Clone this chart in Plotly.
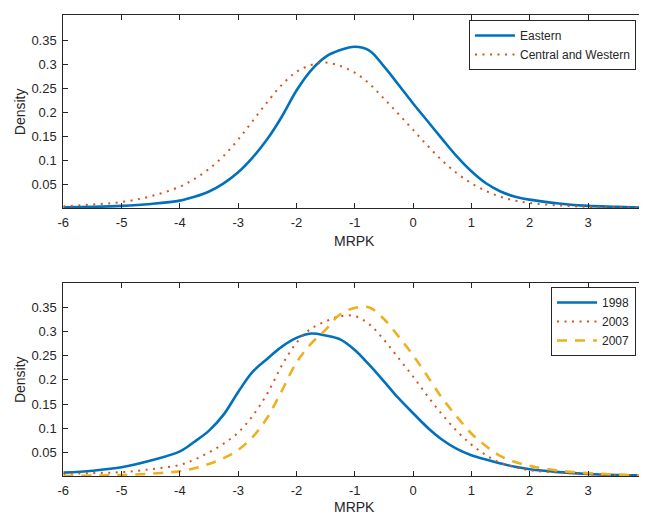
import plotly.graph_objects as go

# ---- data ----
mrpk = [-6, -5.5, -5, -4.5, -4, -3.75, -3.5, -3.25, -3, -2.75, -2.5, -2.25, -2,
        -1.75, -1.5, -1.25, -1, -0.75, -0.5, -0.25, 0, 0.25, 0.5, 0.75, 1,
        1.25, 1.5, 1.75, 2, 2.5, 3, 3.5, 4]

eastern = [0.003, 0.004, 0.006, 0.010, 0.017, 0.025, 0.036, 0.053, 0.076, 0.107,
           0.145, 0.192, 0.246, 0.288, 0.316, 0.330, 0.337, 0.329, 0.296, 0.258,
           0.219, 0.182, 0.145, 0.109, 0.078, 0.053, 0.036, 0.025, 0.019, 0.011,
           0.006, 0.004, 0.002]

central_western = [0.005, 0.009, 0.014, 0.026, 0.046, 0.062, 0.083, 0.110, 0.144,
                   0.183, 0.222, 0.258, 0.285, 0.299, 0.304, 0.297, 0.283, 0.260,
                   0.229, 0.197, 0.164, 0.131, 0.100, 0.074, 0.053, 0.037, 0.025,
                   0.017, 0.012, 0.007, 0.004, 0.003, 0.002]

y1998 = [0.008, 0.012, 0.019, 0.033, 0.052, 0.072, 0.095, 0.128, 0.175, 0.217,
         0.244, 0.269, 0.287, 0.296, 0.292, 0.284, 0.262, 0.231, 0.197, 0.162,
         0.131, 0.101, 0.076, 0.057, 0.044, 0.035, 0.027, 0.020, 0.015, 0.009,
         0.005, 0.003, 0.002]

y2003 = [0.005, 0.007, 0.009, 0.015, 0.024, 0.035, 0.050, 0.068, 0.091, 0.126,
         0.172, 0.230, 0.277, 0.306, 0.321, 0.332, 0.332, 0.315, 0.283, 0.245,
         0.207, 0.166, 0.128, 0.094, 0.066, 0.044, 0.028, 0.019, 0.013, 0.008,
         0.005, 0.003, 0.002]

y2007 = [0.001, 0.002, 0.003, 0.006, 0.011, 0.017, 0.026, 0.038, 0.055, 0.082,
         0.122, 0.178, 0.236, 0.275, 0.304, 0.336, 0.349, 0.350, 0.326, 0.290,
         0.251, 0.207, 0.162, 0.124, 0.089, 0.063, 0.042, 0.030, 0.022, 0.012,
         0.007, 0.004, 0.002]

x_ticks = [-6, -5, -4, -3, -2, -1, 0, 1, 2, 3, 4]
x_tick_labels = ["-6", "-5", "-4", "-3", "-2", "-1", "0", "1", "2", "3", "4"]
y_ticks = [0.05, 0.1, 0.15, 0.2, 0.25, 0.3, 0.35]
y_tick_labels = ["0.05", "0.1", "0.15", "0.2", "0.25", "0.3", "0.35"]

BLUE = "#0072BD"
ORANGE = "#D95319"
YELLOW = "#EDB120"
AX = "#262626"
W, H = 647, 514
OX, OY = 8, 8   # page offset of the figure (default body margin)
FONT = "Liberation Sans, Arial, Helvetica, sans-serif"


def px(x):
    return (x - OX) / W


def py(y):
    return 1 - (y - OY) / H


DOT = "2px,5.5px"
DASH = "10px,8px"

fig = go.Figure()

fig.add_trace(go.Scatter(x=mrpk, y=eastern, name="Eastern", mode="lines",
                         line=dict(color=BLUE, width=2.6, shape="spline"),
                         xaxis="x", yaxis="y", legend="legend"))
fig.add_trace(go.Scatter(x=mrpk, y=central_western, name="Central and Western", mode="lines",
                         line=dict(color=ORANGE, width=2, dash=DOT, shape="spline"),
                         xaxis="x", yaxis="y", legend="legend"))
fig.add_trace(go.Scatter(x=mrpk, y=y1998, name="1998", mode="lines",
                         line=dict(color=BLUE, width=2.6, shape="spline"),
                         xaxis="x2", yaxis="y2", legend="legend2"))
fig.add_trace(go.Scatter(x=mrpk, y=y2003, name="2003", mode="lines",
                         line=dict(color=ORANGE, width=2, dash=DOT, shape="spline"),
                         xaxis="x2", yaxis="y2", legend="legend2"))
fig.add_trace(go.Scatter(x=mrpk, y=y2007, name="2007", mode="lines",
                         line=dict(color=YELLOW, width=2.6, dash=DASH, shape="spline"),
                         xaxis="x2", yaxis="y2", legend="legend2"))

xdom = [px(63.3), px(646.3)]
top_dom = [py(208.3), py(15)]
bot_dom = [py(476), py(283.3)]


def xaxis(dom, anchor):
    return dict(domain=dom, anchor=anchor, range=[-6, 4], tickvals=x_ticks,
                ticktext=x_tick_labels,
                ticks="inside", ticklen=5, tickwidth=1, tickcolor=AX,
                showline=True, linecolor=AX, linewidth=1, mirror="allticks",
                showgrid=False, zeroline=False, ticklabelstandoff=2, automargin=False,
                tickfont=dict(size=13, color="#262626", family=FONT))


def yaxis(dom, anchor, rng):
    return dict(domain=dom, anchor=anchor, range=rng, tickvals=y_ticks,
                ticktext=y_tick_labels,
                ticks="inside", ticklen=5, tickwidth=1, tickcolor=AX,
                showline=True, linecolor=AX, linewidth=1, mirror="allticks",
                showgrid=False, zeroline=False, ticklabelstandoff=3, automargin=False,
                tickfont=dict(size=13, color="#262626", family=FONT))


legend_style = dict(bgcolor="white", bordercolor=AX, borderwidth=1,
                    font=dict(size=12, color="#262626", family=FONT),
                    xanchor="right", yanchor="top", xref="paper", yref="paper",
                    itemwidth=40, tracegroupgap=0)

fig.update_layout(
    width=W, height=H,
    margin=dict(l=0, r=0, t=0, b=0, autoexpand=False),
    paper_bgcolor="white", plot_bgcolor="white",
    font=dict(family=FONT, color="#262626"),
    xaxis=xaxis(xdom, "y"),
    yaxis=yaxis(top_dom, "x", [0.001, 0.403]),
    xaxis2=xaxis(xdom, "y2"),
    yaxis2=yaxis(bot_dom, "x2", [0.001, 0.4]),
    legend=dict(x=px(636), y=py(20), **legend_style),
    legend2=dict(x=px(636), y=py(287), **legend_style),
    showlegend=True,
)

ann_font = dict(size=14, color="#262626", family=FONT)
annotations = [
    dict(text="MRPK", x=px(355), y=py(241.5), xref="paper", yref="paper",
         showarrow=False, font=ann_font, xanchor="center", yanchor="middle"),
    dict(text="MRPK", x=px(355), y=py(507), xref="paper", yref="paper",
         showarrow=False, font=ann_font, xanchor="center", yanchor="middle"),
    dict(text="Density", x=px(19.5), y=py(111.7), xref="paper", yref="paper",
         showarrow=False, font=ann_font, textangle=-90, xanchor="center", yanchor="middle"),
    dict(text="Density", x=px(19.5), y=py(379.6), xref="paper", yref="paper",
         showarrow=False, font=ann_font, textangle=-90, xanchor="center", yanchor="middle"),
]
fig.update_layout(annotations=annotations)

fig.write_html("out.html")
